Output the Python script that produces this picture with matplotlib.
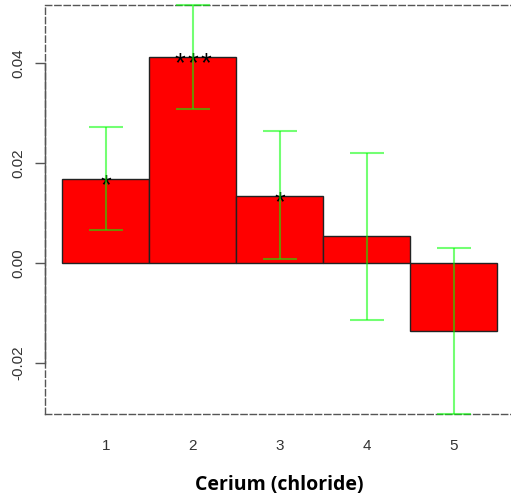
import matplotlib
matplotlib.use("Agg")
import matplotlib.pyplot as plt
import numpy as np

# ---------------- data ----------------
groups = [1, 2, 3, 4, 5]
effect = [0.0168, 0.0412, 0.0134, 0.0054, -0.0136]
err_hi = [0.0272, 0.0516, 0.0264, 0.0220, 0.0030]
err_lo = [0.0066, 0.0308, 0.0008, -0.0114, -0.0302]
signif = ["*", "***", "*", "", ""]
xlabel = "Cerium (chloride)"
yticks = [-0.02, 0.00, 0.02, 0.04]

# ---------------- figure ----------------
fig = plt.figure(figsize=(5.11, 5.0), dpi=100)
ax = fig.add_axes([45 / 511, 1 - 414 / 500, (514.4 - 45) / 511, (414 - 5) / 500])

x = np.array(groups)
y = np.array(effect)
ax.bar(x, y, width=1.0, color="#ff0000", edgecolor="#222222", linewidth=1.0, zorder=2)

# significance stars at bar tops, each star placed on its own
star_gap = 9.4  # points between stars
for xi, yi, s in zip(x, y, signif):
    n = len(s)
    for k in range(n):
        ax.annotate("*", (xi, yi), xytext=((k - (n - 1) / 2) * star_gap, -5.3),
                    textcoords="offset points", ha="center", va="center",
                    fontsize=20, family="Liberation Sans", color="black", zorder=3)

# error bars (semi transparent green like R's col=rgb(0,1,0,0.5))
lo = y - np.array(err_lo)
hi = np.array(err_hi) - y
ax.errorbar(x, y, yerr=[lo, hi], fmt="none", ecolor=(0, 1, 0, 0.55),
            elinewidth=1.5, capsize=12.2, capthick=1.5, zorder=4, clip_on=False)

ax.set_xlim(0.3, 5.7)
ax.set_ylim(-0.0302, 0.0516)

# dashed box + solid y axis
for side in ["left", "top", "bottom"]:
    ax.spines[side].set_linestyle((0, (4.5, 2.2)))
    ax.spines[side].set_color("#555555")
    ax.spines[side].set_linewidth(1.0)
ax.spines["right"].set_visible(False)
ax.plot([0, 0], [yticks[0], yticks[-1]], color="#555555", lw=1.0,
        transform=ax.get_yaxis_transform(), clip_on=False, zorder=5)

ax.set_yticks(yticks)
ax.set_yticklabels(["%.2f" % t for t in yticks], rotation=90, va="center",
                   family="Liberation Sans", fontsize=11, color="#333333")
ax.tick_params(axis="y", length=7, width=1.0, color="#555555", pad=7)
ax.set_xticks(x)
ax.set_xticklabels([str(g) for g in groups], family="Liberation Sans",
                   fontsize=11, color="#333333")
ax.tick_params(axis="x", length=0, pad=18)

ax.set_xlabel(xlabel, family="Open Sans", fontweight="bold", fontsize=14,
              color="black", labelpad=15.5)

fig.savefig("out.png", dpi=100)
